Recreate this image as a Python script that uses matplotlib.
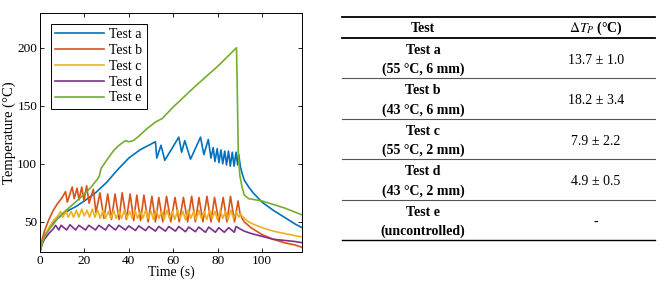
import matplotlib
matplotlib.use("Agg")
import matplotlib.pyplot as plt

# Data (time in s, temperature in degC)
t_a = [0, 1, 2, 4, 6, 8, 10, 13, 16, 20, 25, 30, 35, 40, 45, 50, 52,
       52.6, 54.5, 56.2, 62.5, 63.8, 65.2, 67.8, 72.3, 73.8, 75.8, 77.0,
       78, 78.8, 79.8, 80.6, 81.5, 82.3, 83.2, 84.0, 84.9, 85.7, 86.6, 87.4,
       88.3, 89.0, 89.5, 90.3, 91, 92, 94, 96, 100, 105, 110, 115, 118]
T_a = [24, 33, 38, 44, 49, 53, 56, 60, 63, 68, 75, 84, 95, 105, 112, 117, 119,
       105, 116, 103, 123, 110, 120, 104, 123, 108, 121, 105,
       114, 102, 113, 101, 112, 100, 111, 99, 111, 98, 110, 98,
       110, 99, 108, 97, 92, 86, 80, 75, 67, 60, 54, 48, 45]

t_b = [0, 1, 2, 4, 6, 8, 10, 11.5,
       12.3, 14.5, 15.4, 16.7, 17.6, 18.8, 19.8, 21, 22.1, 24, 25.2, 27,
       28.8, 30.5, 32.2, 33.8, 35.6, 37, 38.9, 40.6, 42.2, 43.6, 45.3, 46.8,
       48.7, 50.4, 52, 53.5, 55.3, 57, 58.9, 60.8, 62.7, 64.6, 66.5, 68.3,
       70, 71.6, 73.4, 75.2, 77, 78.6, 80.6, 82.5, 84.2, 85.8, 87.6, 89.2,
       90, 91, 92, 95, 100, 105, 110, 115, 118]
T_b = [24, 35, 42, 52, 60, 66, 71, 76,
       67, 80, 70, 79, 69, 80, 68, 81, 66, 78, 58, 75,
       53, 74, 52, 74, 52, 75, 52, 74, 51, 73, 51, 73,
       50, 72, 50, 71, 50, 72, 50, 71, 50, 71, 50, 72,
       50, 71, 50, 72, 50, 71, 50, 71, 50, 72, 50, 68,
       58, 53, 50, 45, 39, 35, 32, 30, 28]

t_c = [0, 1, 2, 4, 6, 8, 9.2, 10.3, 11.6, 12.7, 14, 15.1, 16.4, 17.5, 18.8,
       19.9, 21.2, 22.3, 23.6, 24.7, 26, 27.1, 28.4, 29.5, 30.8, 31.9, 33.2,
       34.3, 35.6, 36.7, 38, 39.1, 40.4, 41.5, 42.8, 43.9, 45.2, 46.3, 47.6,
       48.7, 50, 51.1, 52.4, 53.5, 54.8, 55.9, 57.2, 58.3, 59.6, 60.7, 62,
       63.1, 64.4, 65.5, 66.8, 67.9, 69.2, 70.3, 71.6, 72.7, 74, 75.1, 76.4,
       77.5, 78.8, 79.9, 81.2, 82.3, 83.6, 84.7, 86, 87.1, 88.4, 89.5, 90.3,
       91, 92, 94, 96, 100, 105, 110, 115, 118]
T_c = [24, 32, 37, 45, 51, 55, 59, 54, 60, 54, 59, 54, 60, 54, 61,
       55, 60, 54, 61, 54, 60, 53, 60, 53, 59, 53, 60,
       53, 59, 53, 60, 53, 59, 53, 60, 53, 59, 53, 60,
       53, 59, 52, 60, 53, 59, 52, 60, 53, 59, 52, 60,
       53, 59, 52, 60, 53, 59, 52, 60, 53, 59, 52, 60,
       53, 59, 52, 60, 53, 59, 52, 60, 53, 59, 54, 57,
       55, 53, 50, 48, 45, 42, 40, 38, 37]

t_d = [0, 1, 2, 4, 6, 7, 8.5, 9.5, 12, 13.5, 16, 17.5, 20.5, 22, 25, 26.5,
       29.5, 31, 34, 35.5, 38.5, 40, 43, 44.5, 47.5, 49, 52, 53.5, 56.5, 58,
       61, 62.5, 65.5, 67, 70, 71.5, 74.5, 76, 79, 80.5, 83, 85, 87.5, 88.3,
       90, 92, 95, 100, 105, 110, 115, 118]
T_d = [24, 31, 35, 40, 44, 47, 43, 47, 43, 47.5, 43, 47, 43, 47, 43, 47,
       43, 47.5, 43, 47, 43, 46.5, 42.5, 46.5, 42.5, 46, 42, 46, 42, 46,
       42, 46, 41.5, 45.5, 41.5, 45.5, 41, 45.5, 41, 45, 41, 45, 41, 46,
       44, 42, 40, 37.5, 35, 34, 33, 32]

t_e = [0, 1, 2, 4, 6, 8, 10, 13, 16, 20, 23, 26, 26.8, 27.5, 30, 33, 35, 37,
       38.5, 40, 42, 44, 48, 52, 55, 60, 70, 80, 88.5, 88.8, 89.3, 90, 91,
       92, 94, 97, 100, 110, 118]
T_e = [24, 32, 37, 43, 48, 53, 57, 62, 67, 74, 80, 87, 90, 96, 103, 111,
       115, 118, 120, 119, 120, 123, 130, 136, 139, 149, 167, 184, 200, 170,
       110, 90, 80, 73, 70, 69, 68, 62, 56]

series = [("Test a", t_a, T_a), ("Test b", t_b, T_b), ("Test c", t_c, T_c),
          ("Test d", t_d, T_d), ("Test e", t_e, T_e)]
colors = ["#0072BD", "#D95319", "#EDB120", "#7E2F8E", "#77AC30"]

# Table contents
tab_header = ["Test", r"$\Delta T_P$ (°C)"]
tab_tests = ["Test a", "Test b", "Test c", "Test d", "Test e"]
tab_conds = ["(55 °C, 6 mm)", "(43 °C, 6 mm)", "(55 °C, 2 mm)",
             "(43 °C, 2 mm)", "(uncontrolled)"]
tab_values = ["13.7 ± 1.0", "18.2 ± 3.4", "7.9 ± 2.2", "4.9 ± 0.5", "-"]

plt.rcParams["font.family"] = ["Liberation Serif", "DejaVu Serif"]
plt.rcParams["mathtext.fontset"] = "stix"

fig = plt.figure(figsize=(6.65, 2.88), dpi=100)

# ---- chart ----
ax = fig.add_axes([40 / 665, 1 - 252 / 288, 262 / 665, 239 / 288])
for (name, t, T), c in zip(series, colors):
    ax.plot(t, T, color=c, lw=1.2, label=name)

ax.set_xlim(0, 118)
ax.set_ylim(24, 230)
ax.set_xticks([0, 20, 40, 60, 80, 100])
ax.set_yticks([50, 100, 150, 200])
ax.tick_params(direction="in", top=True, right=True, labelsize=9.5,
               length=3, width=0.6, pad=2)
for s in ax.spines.values():
    s.set_linewidth(0.7)
ax.set_xlabel("Time (s)", fontsize=10, labelpad=-1)
ax.set_ylabel("Temperature (°C)", fontsize=10.5, labelpad=1)

leg = ax.legend(loc="upper left", fontsize=10, handlelength=3.5,
                borderpad=0.3, labelspacing=0.2, handletextpad=0.4,
                borderaxespad=0.8, fancybox=False, framealpha=1)
leg.get_frame().set_edgecolor("black")
leg.get_frame().set_linewidth(0.7)

# ---- table (pixel coordinates) ----
tx = fig.add_axes([0, 0, 1, 1])
tx.set_xlim(0, 665)
tx.set_ylim(288, 0)
tx.axis("off")

x0, x1 = 342, 655
col1, col2 = 423, 596
tx.plot([x0, x1], [16.5, 16.5], color="black", lw=1.3)
tx.plot([x0, x1], [37.7, 37.7], color="black", lw=1.3)
tx.text(col1, 28, tab_header[0], ha="center", va="center",
        fontsize=10, fontweight="bold")
tx.text(col2, 28, tab_header[1], ha="center", va="center",
        fontsize=10, fontweight="bold")

row_h = 40.5
for i in range(len(tab_tests)):
    top = 37.7 + i * row_h
    tx.text(col1, top + 12.5, tab_tests[i], ha="center", va="center",
            fontsize=10, fontweight="bold")
    tx.text(col1, top + 32, tab_conds[i], ha="center", va="center",
            fontsize=10, fontweight="bold")
    tx.text(col2, top + 22.5, tab_values[i], ha="center", va="center",
            fontsize=10)
    bottom = top + row_h
    if i < len(tab_tests) - 1:
        tx.plot([x0, x1], [bottom, bottom], color="#555555", lw=0.8)
    else:
        tx.plot([x0, x1], [bottom, bottom], color="black", lw=1.0)

fig.savefig("out.png", dpi=100)
